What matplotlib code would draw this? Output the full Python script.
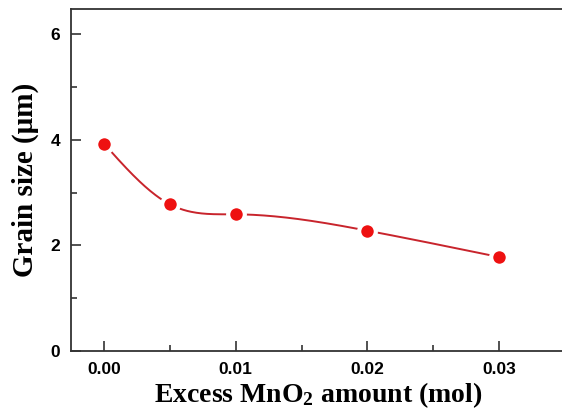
import numpy as np
import matplotlib
matplotlib.use('Agg')
import matplotlib.pyplot as plt

# Datos
mno2_excess = [0.000, 0.005, 0.010, 0.020, 0.030]
grain_size = [3.93, 2.78, 2.59, 2.28, 1.78]

x_ticks = [0.00, 0.01, 0.02, 0.03]
x_tick_labels = ['0.00', '0.01', '0.02', '0.03']
y_ticks = [0, 2, 4, 6]


def natural_spline(x, y, n=300):
    """Spline cúbico natural para la línea suavizada"""
    x = np.asarray(x, float)
    y = np.asarray(y, float)
    m = len(x)
    h = np.diff(x)
    A = np.zeros((m, m))
    b = np.zeros(m)
    A[0, 0] = A[-1, -1] = 1.0
    for i in range(1, m - 1):
        A[i, i - 1] = h[i - 1]
        A[i, i] = 2 * (h[i - 1] + h[i])
        A[i, i + 1] = h[i]
        b[i] = 6 * ((y[i + 1] - y[i]) / h[i] - (y[i] - y[i - 1]) / h[i - 1])
    M = np.linalg.solve(A, b)
    xs = np.linspace(x[0], x[-1], n)
    idx = np.clip(np.searchsorted(x, xs) - 1, 0, m - 2)
    x0, x1 = x[idx], x[idx + 1]
    hh = x1 - x0
    ys = (M[idx] * (x1 - xs) ** 3 / (6 * hh) + M[idx + 1] * (xs - x0) ** 3 / (6 * hh)
          + (y[idx] / hh - M[idx] * hh / 6) * (x1 - xs)
          + (y[idx + 1] / hh - M[idx + 1] * hh / 6) * (xs - x0))
    return xs, ys


plt.rcParams['mathtext.fontset'] = 'custom'
plt.rcParams['mathtext.rm'] = 'Liberation Serif:bold'
plt.rcParams['mathtext.bf'] = 'Liberation Serif:bold'
plt.rcParams['mathtext.it'] = 'Liberation Serif:bold'

fig = plt.figure(figsize=(5.62, 4.16), dpi=100)
ax = fig.add_axes([71 / 562, 65 / 416, 494 / 562, 342 / 416])

xs, ys = natural_spline(mno2_excess, grain_size)
ax.plot(xs, ys, color='#c8242c', linewidth=1.4, zorder=2)
ax.plot(mno2_excess, grain_size, 'o', color='#ee1111', markersize=12,
        markeredgecolor='white', markeredgewidth=3, zorder=3)

ax.set_xlim(-0.0025, 0.035)
ax.set_ylim(0, 6.48)
ax.set_xticks(x_ticks)
ax.set_xticklabels(x_tick_labels)
ax.set_yticks(y_ticks)
ax.set_xticks([0.005, 0.015, 0.025], minor=True)
ax.set_yticks([1, 3, 5], minor=True)

ax.tick_params(which='major', direction='in', length=7, width=1.2, pad=8,
               labelsize=12.5, color='#333333')
ax.tick_params(which='minor', direction='in', length=4, width=1.2, color='#333333')
for lab in ax.get_xticklabels() + ax.get_yticklabels():
    lab.set_fontfamily('Liberation Sans')
    lab.set_fontweight('bold')

for spine in ax.spines.values():
    spine.set_linewidth(1.3)
    spine.set_color('#333333')

ax.set_xlabel(r'Excess MnO$_{2}$ amount (mol)', fontfamily='Liberation Serif',
              fontweight='bold', fontsize=20, labelpad=2)
ax.set_ylabel(u'Grain size (\u03bcm)', fontfamily='Liberation Serif',
              fontweight='bold', fontsize=21, labelpad=8)

fig.savefig('out.png', dpi=100)
plt.close(fig)
